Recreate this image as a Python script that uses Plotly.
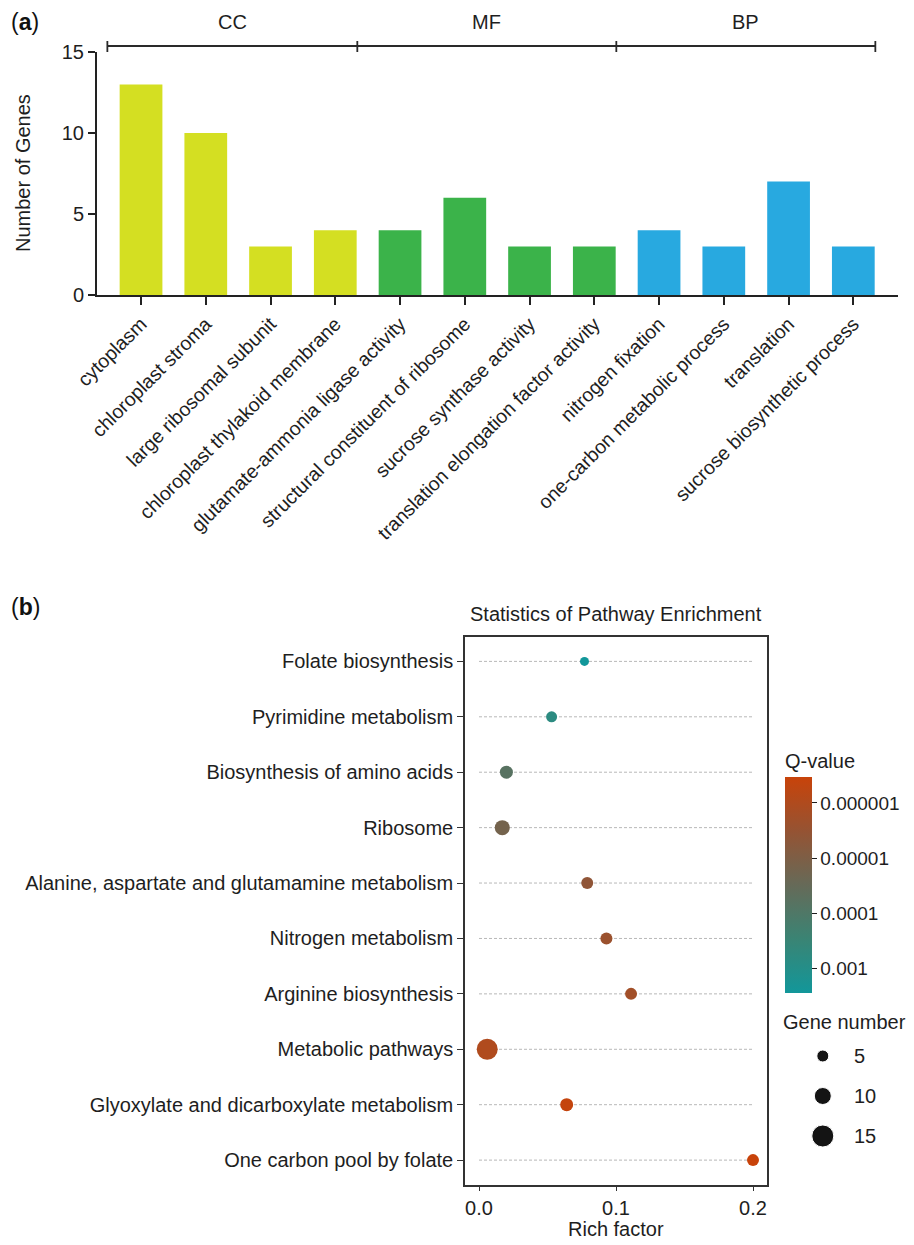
import numpy as np
import plotly.graph_objects as go

# The page places the figure 8 px from the top-left corner, so the figure
# is made 8 px smaller and all layout positions are measured from the page.
OFF = 8
PAGE_W, PAGE_H = 914, 1245
W, H = PAGE_W - OFF, PAGE_H - OFF
FONT = "Liberation Sans, Arial, Helvetica, sans-serif"
TXT = "#1e1e1e"

# ---------------- Panel (a) data ----------------
go_terms = ["cytoplasm", "chloroplast stroma", "large ribosomal subunit",
            "chloroplast thylakoid membrane", "glutamate-ammonia ligase activity",
            "structural constituent of ribosome", "sucrose synthase activity",
            "translation elongation factor activity", "nitrogen fixation",
            "one-carbon metabolic process", "translation", "sucrose biosynthetic process"]
go_counts = [13, 10, 3, 4, 4, 6, 3, 3, 4, 3, 7, 3]
go_class = ["CC", "CC", "CC", "CC", "MF", "MF", "MF", "MF", "BP", "BP", "BP", "BP"]
class_names = ["CC", "MF", "BP"]
class_colors = {"CC": "#d4df22", "MF": "#3bb34a", "BP": "#28a9e0"}
y_ticks_a = [0, 5, 10, 15]

# ---------------- Panel (b) data ----------------
pathways = ["Folate biosynthesis", "Pyrimidine metabolism", "Biosynthesis of amino acids",
            "Ribosome", "Alanine, aspartate and glutamamine metabolism", "Nitrogen metabolism",
            "Arginine biosynthesis", "Metabolic pathways",
            "Glyoxylate and dicarboxylate metabolism", "One carbon pool by folate"]
rich_factor = [0.077, 0.053, 0.020, 0.017, 0.079, 0.093, 0.111, 0.006, 0.064, 0.200]
gene_number = [2, 4, 6, 8, 5, 5, 5, 14, 6, 5]
q_value = [2.75e-3, 6.3e-4, 6.3e-5, 1.6e-5, 4.0e-6, 2.5e-6, 1.8e-6, 1.0e-6, 4.0e-7, 3.4e-7]
q_ticks = [1e-6, 1e-5, 1e-4, 1e-3]
q_ticktext = ["0.000001", "0.00001", "0.0001", "0.001"]
x_ticks_b = [0.0, 0.1, 0.2]
size_legend = [5, 10, 15]


def px(x):
    return (x - OFF) / W


def py(y):
    return 1 - (y - OFF) / H


def msize(n):
    return 7 + n


fig = go.Figure()

# ---- bars ----
fig.add_trace(go.Bar(
    x=list(range(len(go_terms))), y=go_counts,
    marker=dict(color=[class_colors[c] for c in go_class], line=dict(width=0)),
    width=0.66, xaxis="x", yaxis="y", hoverinfo="x+y",
))

# ---- dashed guide lines ----
lx, ly = [], []
for p in pathways:
    lx += [0, max(rich_factor), None]
    ly += [p, p, None]
fig.add_trace(go.Scatter(x=lx, y=ly, mode="lines", xaxis="x2", yaxis="y2",
                         line=dict(color="#b8b8b8", width=1, dash="3px,2px"),
                         hoverinfo="skip"))

# ---- enrichment points ----
neglog = [-np.log10(q) for q in q_value]
cscale = [[0.0, "#12979a"], [0.25, "#3a8474"], [0.5, "#666a58"],
          [0.75, "#955333"], [1.0, "#c8430a"]]
fig.add_trace(go.Scatter(
    x=rich_factor, y=pathways, mode="markers", xaxis="x2", yaxis="y2",
    marker=dict(size=[msize(n) for n in gene_number], color=neglog,
                colorscale=cscale, cmin=min(neglog), cmax=max(neglog),
                opacity=1, line=dict(width=0),
                colorbar=dict(
                    x=px(785), xanchor="left", xpad=0, ypad=0,
                    y=py(993), yanchor="bottom",
                    len=243, lenmode="pixels", thickness=27,
                    outlinewidth=0, ticks="outside", ticklen=5, tickwidth=1.2,
                    tickcolor=TXT,
                    tickvals=[-np.log10(t) for t in q_ticks], ticktext=q_ticktext,
                    tickfont=dict(size=19, color=TXT, family=FONT),
                    title=dict(text="Q-value", side="top",
                               font=dict(size=20, color=TXT, family=FONT)),
                )),
    hovertemplate="%{y}<br>Rich factor %{x}<extra></extra>",
))

# ---- size legend ----
fig.add_trace(go.Scatter(
    x=[0.2] * len(size_legend), y=list(range(len(size_legend))), mode="markers",
    xaxis="x3", yaxis="y3",
    marker=dict(size=[msize(v) for v in size_legend], color="#141414", opacity=1),
    hoverinfo="skip",
))

annotations = []
for i, v in enumerate(size_legend):
    annotations.append(dict(x=0.456, y=i, xref="x3", yref="y3", text=str(v),
                            showarrow=False, xanchor="left", yanchor="middle",
                            font=dict(size=20, color=TXT, family=FONT)))
annotations.append(dict(x=px(781), y=py(1022), xref="paper", yref="paper",
                        text="Gene number", showarrow=False, xanchor="left",
                        yanchor="middle", font=dict(size=20, color=TXT, family=FONT)))

# ---- bracket over panel (a) ----
shapes = []
first_idx = go_class.index(class_names[0])
bounds = [first_idx - 0.52]
for c in class_names:
    last = max(i for i, g in enumerate(go_class) if g == c)
    bounds.append(last + 0.34)
y_line = py(46)
shapes.append(dict(type="line", xref="x", yref="paper", x0=bounds[0], x1=bounds[-1],
                   y0=y_line, y1=y_line, line=dict(color="#2a2a2a", width=1.8)))
for b in bounds:
    shapes.append(dict(type="line", xref="x", yref="paper", x0=b, x1=b,
                       y0=py(41), y1=py(52), line=dict(color="#2a2a2a", width=1.8)))
for k, c in enumerate(class_names):
    annotations.append(dict(x=(bounds[k] + bounds[k + 1]) / 2, y=py(22), xref="x",
                            yref="paper", text=c, showarrow=False, xanchor="center",
                            yanchor="middle", font=dict(size=20, color=TXT, family=FONT)))

# ---- titles / panel labels ----
annotations += [
    dict(x=px(9), y=py(22), xref="paper", yref="paper", text="(<b>a</b>)",
         showarrow=False, xanchor="left", yanchor="middle",
         font=dict(size=23, color="#111", family=FONT)),
    dict(x=px(9), y=py(607), xref="paper", yref="paper", text="(<b>b</b>)",
         showarrow=False, xanchor="left", yanchor="middle",
         font=dict(size=23, color="#111", family=FONT)),
    dict(x=px(23), y=py(173), xref="paper", yref="paper", text="Number of Genes",
         textangle=-90, showarrow=False, xanchor="center", yanchor="middle",
         font=dict(size=20, color=TXT, family=FONT)),
    dict(x=px((465 + 767) / 2), y=py(614), xref="paper", yref="paper",
         text="Statistics of Pathway Enrichment", showarrow=False,
         xanchor="center", yanchor="middle", font=dict(size=20, color=TXT, family=FONT)),
    dict(x=px((465 + 767) / 2), y=py(1229), xref="paper", yref="paper",
         text="Rich factor", showarrow=False, xanchor="center", yanchor="middle",
         font=dict(size=20, color=TXT, family=FONT)),
]

fig.update_layout(
    width=W, height=H, margin=dict(l=0, r=0, t=0, b=0, autoexpand=False),
    paper_bgcolor="white", plot_bgcolor="white", showlegend=False,
    font=dict(family=FONT, color=TXT),
    xaxis=dict(domain=[px(97), px(898)], anchor="y", range=[-0.68, 11.69],
               tickmode="array", tickvals=list(range(len(go_terms))), ticktext=go_terms,
               tickangle=-45, tickfont=dict(size=19.5, color=TXT), automargin=False,
               showline=True, linecolor="#222", linewidth=2,
               ticks="outside", ticklen=8, tickwidth=1.5, tickcolor="#222",
               showgrid=False, zeroline=False, fixedrange=True),
    yaxis=dict(domain=[py(295), py(52)], anchor="x", range=[0, 15], automargin=False,
               tickvals=y_ticks_a, tickfont=dict(size=20, color=TXT),
               showline=True, linecolor="#222", linewidth=2,
               ticks="outside", ticklen=7, tickwidth=1.5, tickcolor="#222",
               showgrid=False, zeroline=False),
    xaxis2=dict(domain=[px(465), px(767)], anchor="y2", automargin=False,
                range=[(465 - 479) / 1370, 0.2 + (767 - 753) / 1370],
                tickvals=x_ticks_b, ticktext=[f"{v:.1f}" for v in x_ticks_b],
                tickfont=dict(size=20, color=TXT),
                showline=True, mirror=True, linecolor="#333", linewidth=1.6,
                ticks="outside", ticklen=5, tickwidth=1.2, tickcolor="#333",
                showgrid=False, zeroline=False),
    yaxis2=dict(domain=[py(1184.5), py(637)], anchor="x2", type="category",
                automargin=False,
                categoryorder="array", categoryarray=pathways,
                range=[len(pathways) - 1 + 0.44, -0.44],
                tickfont=dict(size=20, color=TXT),
                showline=True, mirror=True, linecolor="#333", linewidth=1.6,
                ticks="outside", ticklen=6, tickwidth=1.2, tickcolor="#333",
                showgrid=False, zeroline=False),
    xaxis3=dict(domain=[px(800), px(914)], anchor="y3", range=[0, 1], visible=False,
                automargin=False),
    yaxis3=dict(domain=[py(1156), py(1036)], anchor="x3", range=[2.5, -0.5],
                visible=False, automargin=False),
    shapes=shapes, annotations=annotations,
)

fig.write_html("out.html")
